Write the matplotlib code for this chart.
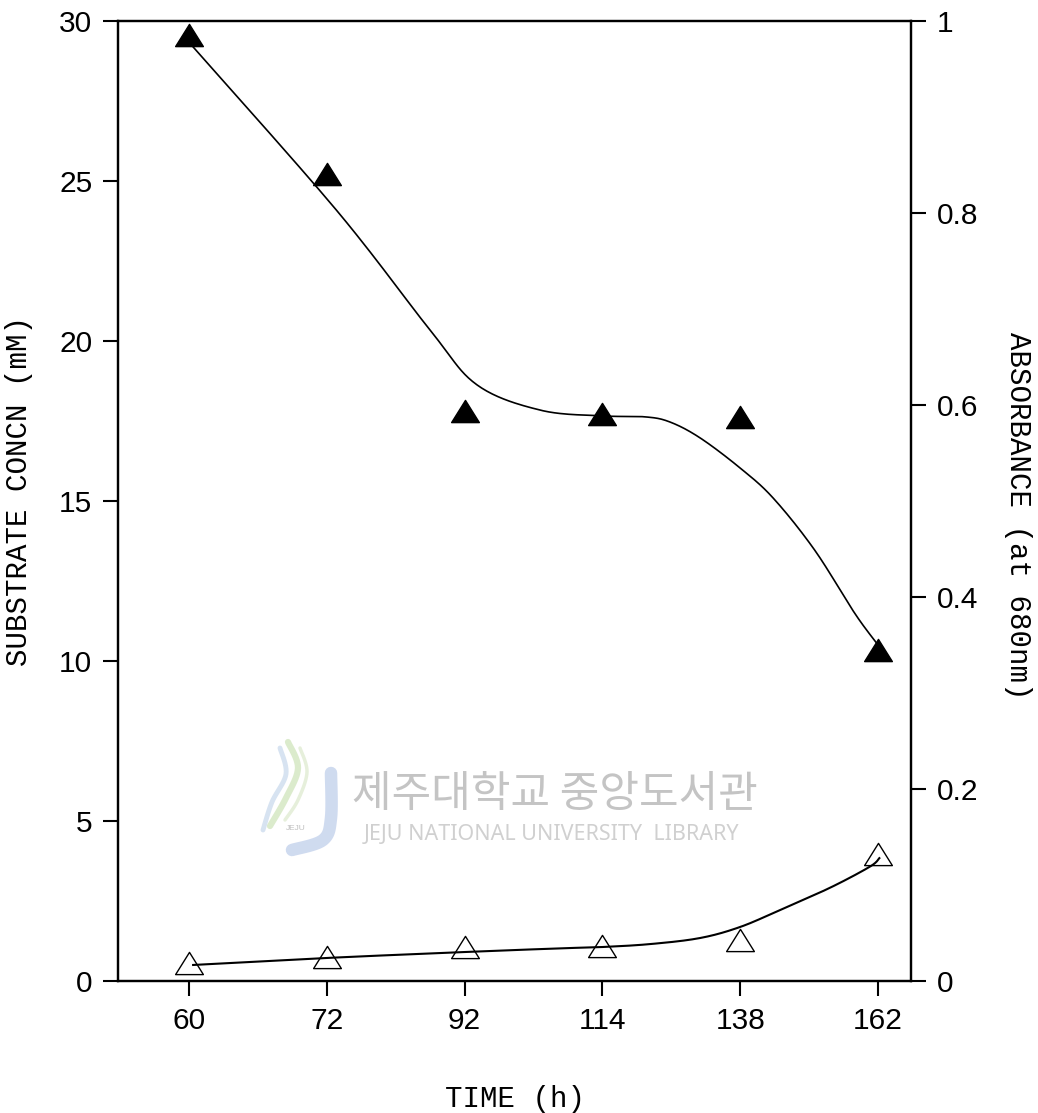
import numpy as np
import matplotlib.pyplot as plt
from matplotlib.path import Path

# sampling times (h), plotted at equally spaced positions
hours = ["60", "72", "92", "114", "138", "162"]
substrate = [29.56, 25.23, 17.81, 17.73, 17.64, 10.34]      # mM
absorbance = [0.019, 0.0255, 0.035, 0.036, 0.043, 0.132]    # A680

# hand-drawn fit lines, given as (position, value) guide points
sub_fit_x = [0.03, 1.07, 1.75, 2.09, 2.55, 3.00, 3.31, 3.49, 3.71, 4.00, 4.24, 4.54, 4.83, 4.99]
sub_fit_y = [29.19, 24.09, 20.34, 18.63, 17.84, 17.66, 17.63, 17.47, 16.97, 16.03, 15.09, 13.47, 11.50, 10.56]
abs_fit_x = [0.03, 1.00, 1.97, 2.69, 3.00, 3.35, 3.71, 4.00, 4.29, 4.65, 4.94, 5.01]
abs_fit_y = [0.0167, 0.024, 0.030, 0.034, 0.0354, 0.0385, 0.0448, 0.0563, 0.074, 0.097, 0.119, 0.128]


def catmull_rom(xs, ys, n=24):
    pts = np.column_stack([xs, ys]).astype(float)
    pts = np.vstack([pts[0], pts, pts[-1]])
    out = []
    t = np.linspace(0, 1, n)[:, None]
    for i in range(1, len(pts) - 2):
        p0, p1, p2, p3 = pts[i - 1], pts[i], pts[i + 1], pts[i + 2]
        seg = 0.5 * ((2 * p1) + (-p0 + p2) * t
                     + (2 * p0 - 5 * p1 + 4 * p2 - p3) * t ** 2
                     + (-p0 + 3 * p1 - 3 * p2 + p3) * t ** 3)
        out.append(seg if i == 1 else seg[1:])
    out = np.vstack(out)
    return out[:, 0], out[:, 1]


tri = Path([(-1, -0.8), (1, -0.8), (0, 0.8), (-1, -0.8)],
           [Path.MOVETO, Path.LINETO, Path.LINETO, Path.CLOSEPOLY])

num_font = "Liberation Sans"
lab_font = "Liberation Mono"

fig = plt.figure(figsize=(10.38, 11.13), dpi=100)
ax = fig.add_axes([0.1137, 0.1186, 0.764, 0.8625])
ax2 = ax.twinx()

pos = np.arange(len(hours))

# substrate (left axis)
fx, fy = catmull_rom(sub_fit_x, sub_fit_y)
ax.plot(fx, fy, color="black", lw=1.2)
ax.plot(pos, substrate, linestyle="none", marker=tri, ms=20,
        mfc="black", mec="black", clip_on=False)

# absorbance (right axis)
gx, gy = catmull_rom(abs_fit_x, abs_fit_y)
ax2.plot(gx, gy, color="black", lw=1.5)
ax2.plot(pos, absorbance, linestyle="none", marker=tri, ms=20,
         mfc="none", mec="black", mew=1.0, clip_on=False)

ax.set_xlim(-0.515, 5.24)
ax.set_ylim(0, 30)
ax2.set_ylim(0, 1)

ax.set_xticks(pos)
ax.set_xticklabels(hours)
ax.set_yticks([0, 5, 10, 15, 20, 25, 30])
ax2.set_yticks([0, 0.2, 0.4, 0.6, 0.8, 1.0])
ax2.set_yticklabels(["0", "0.2", "0.4", "0.6", "0.8", "1"])

for a in (ax, ax2):
    for s in a.spines.values():
        s.set_linewidth(1.6)
ax.tick_params(axis="both", direction="out", length=10.5, width=1.5,
               labelsize=21.5, pad=8)
ax.tick_params(axis="x", pad=8)
ax2.tick_params(axis="y", direction="out", length=10.5, width=1.5,
                labelsize=21.5, pad=8)
for lbl in ax.get_xticklabels() + ax.get_yticklabels() + ax2.get_yticklabels():
    lbl.set_fontfamily(num_font)

ax.set_ylabel("SUBSTRATE CONCN (mM)", fontfamily=lab_font, fontsize=21)
ax.yaxis.set_label_coords(-0.107, 0.51)
ax2.set_ylabel("ABSORBANCE (at 680nm)", fontfamily=lab_font, fontsize=21,
               rotation=-90, va="center")
ax2.yaxis.set_label_coords(1.135, 0.485)
ax.set_xlabel("TIME (h)", fontfamily=lab_font, fontsize=21)
ax.xaxis.set_label_coords(0.5, -0.108)


# library stamp
def fp(x, y):
    return x / 1038, 1 - y / 1113


def stroke(points, color, lw):
    xs, ys = zip(*[fp(*p) for p in points])
    sx, sy = catmull_rom(xs, ys, n=12)
    fig.add_artist(plt.Line2D(sx, sy, color=color, lw=lw, alpha=0.8,
                              solid_capstyle="round", transform=fig.transFigure))


stroke([(288, 742), (298, 768), (286, 798), (270, 826)], "#d3e6c0", 4.5)
stroke([(280, 748), (286, 774), (272, 802), (263, 830)], "#cddcee", 3.5)
stroke([(300, 748), (307, 772), (298, 800), (285, 820)], "#e0ecd2", 2.5)
stroke([(331, 773), (331, 818), (323, 840), (292, 850)], "#c4d2ec", 9)
fig.text(*fp(296, 828), "JEJU", fontsize=6, color="#c0c0c0",
         ha="center", va="center", fontfamily="Liberation Sans")
fig.text(*fp(555, 795), "제주대학교 중앙도서관", fontsize=31, color="#c4c4c4",
         ha="center", va="center", fontfamily=["Noto Sans CJK KR", "DejaVu Sans"])
fig.text(*fp(551, 834), "JEJU NATIONAL UNIVERSITY  LIBRARY", fontsize=15.5,
         color="#d0d0d0", ha="center", va="center", fontfamily="Noto Sans")

fig.savefig("out.png", dpi=100)
